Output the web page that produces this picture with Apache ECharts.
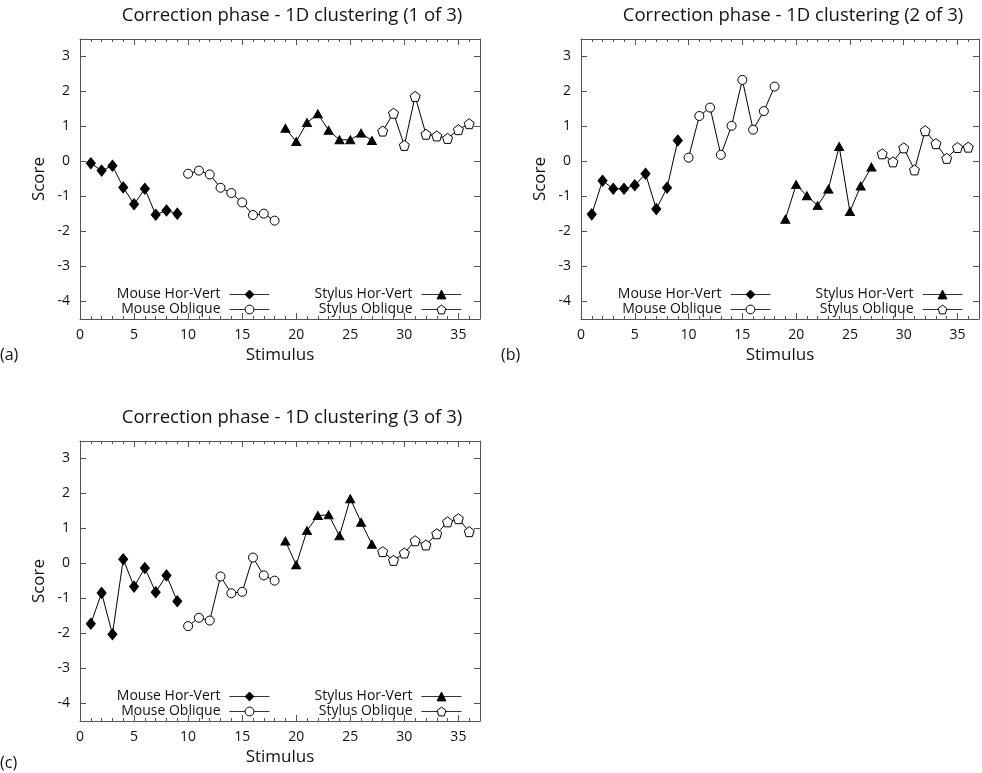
<!DOCTYPE html>
<html>
<head>
<meta charset="utf-8">
<script src="https://cdn.jsdelivr.net/npm/echarts@6/dist/echarts.min.js"></script>
<style>
  html, body { margin: 0; padding: 0; background: #fff; }
  #chart { width: 982px; height: 773px; }
</style>
</head>
<body>
<div id="chart"></div>
<script>
// Stimulus numbers for each condition block
const stimMouseHV  = [1, 2, 3, 4, 5, 6, 7, 8, 9];
const stimMouseOb  = [10, 11, 12, 13, 14, 15, 16, 17, 18];
const stimStylusHV = [19, 20, 21, 22, 23, 24, 25, 26, 27];
const stimStylusOb = [28, 29, 30, 31, 32, 33, 34, 35, 36];

const seriesNames = ['Mouse Hor-Vert', 'Mouse Oblique', 'Stylus Hor-Vert', 'Stylus Oblique'];
const panelTitles = [
  'Correction phase - 1D clustering (1 of 3)',
  'Correction phase - 1D clustering (2 of 3)',
  'Correction phase - 1D clustering (3 of 3)'
];
const panelTags = ['(a)', '(b)', '(c)'];
const xTickLabels = [0, 5, 10, 15, 20, 25, 30, 35];
const xMinorTicks = [1, 2, 3, 4, 6, 7, 8, 9, 11, 12, 13, 14, 16, 17, 18, 19,
                     21, 22, 23, 24, 26, 27, 28, 29, 31, 32, 33, 34, 36];
const yTickLabels = [-4, -3, -2, -1, 0, 1, 2, 3];

// Cluster 1 scores
const aMouseHV  = [-0.05, -0.26, -0.12, -0.74, -1.22, -0.78, -1.52, -1.40, -1.49];
const aMouseOb  = [-0.35, -0.26, -0.37, -0.75, -0.90, -1.17, -1.53, -1.49, -1.69];
const aStylusHV = [0.95, 0.57, 1.11, 1.36, 0.89, 0.62, 0.62, 0.81, 0.60];
const aStylusOb = [0.87, 1.38, 0.46, 1.86, 0.78, 0.73, 0.66, 0.91, 1.08];

// Cluster 2 scores
const bMouseHV  = [-1.51, -0.55, -0.78, -0.78, -0.68, -0.35, -1.36, -0.75, 0.60];
const bMouseOb  = [0.11, 1.30, 1.54, 0.19, 1.02, 2.33, 0.91, 1.44, 2.14];
const bStylusHV = [-1.65, -0.66, -0.98, -1.26, -0.79, 0.43, -1.43, -0.70, -0.16];
const bStylusOb = [0.22, -0.01, 0.39, -0.24, 0.88, 0.51, 0.09, 0.40, 0.41];

// Cluster 3 scores
const cMouseHV  = [-1.72, -0.84, -2.02, 0.12, -0.66, -0.13, -0.82, -0.34, -1.08];
const cMouseOb  = [-1.79, -1.55, -1.63, -0.37, -0.85, -0.81, 0.17, -0.34, -0.49];
const cStylusHV = [0.64, -0.04, 0.94, 1.37, 1.39, 0.79, 1.85, 1.18, 0.55];
const cStylusOb = [0.34, 0.09, 0.30, 0.65, 0.53, 0.85, 1.19, 1.28, 0.91];

const panelValues = [
  [aMouseHV, aMouseOb, aStylusHV, aStylusOb],
  [bMouseHV, bMouseOb, bStylusHV, bStylusOb],
  [cMouseHV, cMouseOb, cStylusHV, cStylusOb]
];
const stimBlocks = [stimMouseHV, stimMouseOb, stimStylusHV, stimStylusOb];

const FONT = '"Open Sans", "DejaVu Sans", sans-serif';
const INK = '#111';
const FRAME = '#555';

const pentagon = 'path://M0,-1L0.951,-0.309L0.588,0.809L-0.588,0.809L-0.951,-0.309Z';
const markerStyles = [
  { symbol: 'diamond',  symbolSize: [9, 11], fill: '#000' },
  { symbol: 'circle',   symbolSize: 9,       fill: '#fff' },
  { symbol: 'triangle', symbolSize: [9, 8],  fill: '#000' },
  { symbol: pentagon,   symbolSize: 10,      fill: '#fff' }
];

const panels = [
  { left: 80,  top: 39,  width: 400, height: 280 },
  { left: 581, top: 39,  width: 398, height: 280 },
  { left: 80,  top: 441, width: 400, height: 280 }
];

const X_MIN = 0, X_MAX = 37, Y_MIN = -4.5, Y_MAX = 3.5;

const grids = [], xAxes = [], yAxes = [], series = [], legends = [], graphics = [];

function xAxisDef(gi, position, ticks, tickLen, labelled, showLine) {
  return {
    type: 'value', gridIndex: gi, position: position,
    min: X_MIN, max: X_MAX,
    axisLine: { show: showLine, onZero: false, lineStyle: { color: FRAME, width: 1 } },
    axisTick: { show: true, inside: true, length: tickLen, customValues: ticks,
                lineStyle: { color: FRAME } },
    splitLine: { show: false },
    axisLabel: labelled ? {
      show: true, margin: 9, color: INK, fontSize: 14, fontFamily: FONT,
      customValues: xTickLabels
    } : { show: false },
    name: labelled ? 'Stimulus' : '',
    nameLocation: 'middle', nameGap: 28,
    nameTextStyle: { color: INK, fontSize: 17, fontFamily: FONT }
  };
}

function yAxisDef(gi, position, labelled) {
  return {
    type: 'value', gridIndex: gi, position: position,
    min: Y_MIN, max: Y_MAX,
    axisLine: { show: true, onZero: false, lineStyle: { color: FRAME, width: 1 } },
    axisTick: { show: true, inside: true, length: 6, customValues: yTickLabels,
                lineStyle: { color: FRAME } },
    splitLine: { show: false },
    axisLabel: labelled ? {
      show: true, margin: 10, color: INK, fontSize: 14, fontFamily: FONT,
      customValues: yTickLabels
    } : { show: false },
    name: labelled ? 'Score' : '',
    nameLocation: 'middle', nameGap: 32,
    nameTextStyle: { color: INK, fontSize: 17, fontFamily: FONT }
  };
}

panels.forEach((p, gi) => {
  grids.push({ left: p.left, top: p.top, width: p.width, height: p.height, containLabel: false });

  const xBase = xAxes.length;
  xAxes.push(xAxisDef(gi, 'bottom', xTickLabels, 6, true, true));   // labelled bottom border
  xAxes.push(xAxisDef(gi, 'top', xTickLabels, 6, false, true));     // mirrored top border
  xAxes.push(xAxisDef(gi, 'bottom', xMinorTicks, 3, false, false)); // minor ticks, bottom
  xAxes.push(xAxisDef(gi, 'top', xMinorTicks, 3, false, false));    // minor ticks, top

  const yBase = yAxes.length;
  yAxes.push(yAxisDef(gi, 'left', true));
  yAxes.push(yAxisDef(gi, 'right', false));

  seriesNames.forEach((name, si) => {
    const m = markerStyles[si];
    const data = stimBlocks[si].map((s, k) => [s, panelValues[gi][si][k]]);
    series.push({
      type: 'line', name: name,
      xAxisIndex: xBase, yAxisIndex: yBase,
      data: data,
      symbol: m.symbol, symbolSize: m.symbolSize,
      showAllSymbol: true, animation: false,
      lineStyle: { color: '#000', width: 1 },
      itemStyle: { color: m.fill, borderColor: '#000', borderWidth: 1, opacity: 1 },
      emphasis: { disabled: true }
    });
  });

  // legend rows: mouse pair at the left, stylus pair at the right
  const rowCenters = [p.top + 254, p.top + 269];
  const rightEdges = [p.left + 190, p.left + 382];
  seriesNames.forEach((name, si) => {
    const col = si < 2 ? 0 : 1;
    const row = si % 2;
    legends.push({
      data: [name],
      orient: 'vertical', align: 'right',
      right: 982 - rightEdges[col], top: rowCenters[row] - 5.5,
      padding: 0, itemWidth: 40, itemHeight: 11, selectedMode: false,
      lineStyle: { width: 1, color: '#333' },
      itemStyle: { borderWidth: 1 },
      textStyle: { color: INK, fontSize: 14, fontFamily: FONT, padding: [0, 4, 0, 0] }
    });
  });

  graphics.push({
    type: 'text', x: p.left + 212, y: p.top - 23,
    style: { text: panelTitles[gi], align: 'center', verticalAlign: 'middle',
             font: '18.5px ' + FONT, fill: INK }
  });
});

graphics.push({ type: 'text', x: 0, y: 355, style: { text: panelTags[0], verticalAlign: 'middle', font: '16px ' + FONT, fill: INK } });
graphics.push({ type: 'text', x: 501, y: 355, style: { text: panelTags[1], verticalAlign: 'middle', font: '16px ' + FONT, fill: INK } });
graphics.push({ type: 'text', x: 0, y: 763, style: { text: panelTags[2], verticalAlign: 'middle', font: '16px ' + FONT, fill: INK } });

const chart = echarts.init(document.getElementById('chart'), null, { renderer: 'canvas' });
chart.setOption({
  backgroundColor: '#fff',
  animation: false,
  grid: grids,
  xAxis: xAxes,
  yAxis: yAxes,
  legend: legends,
  series: series,
  graphic: graphics
});
</script>
</body>
</html>
